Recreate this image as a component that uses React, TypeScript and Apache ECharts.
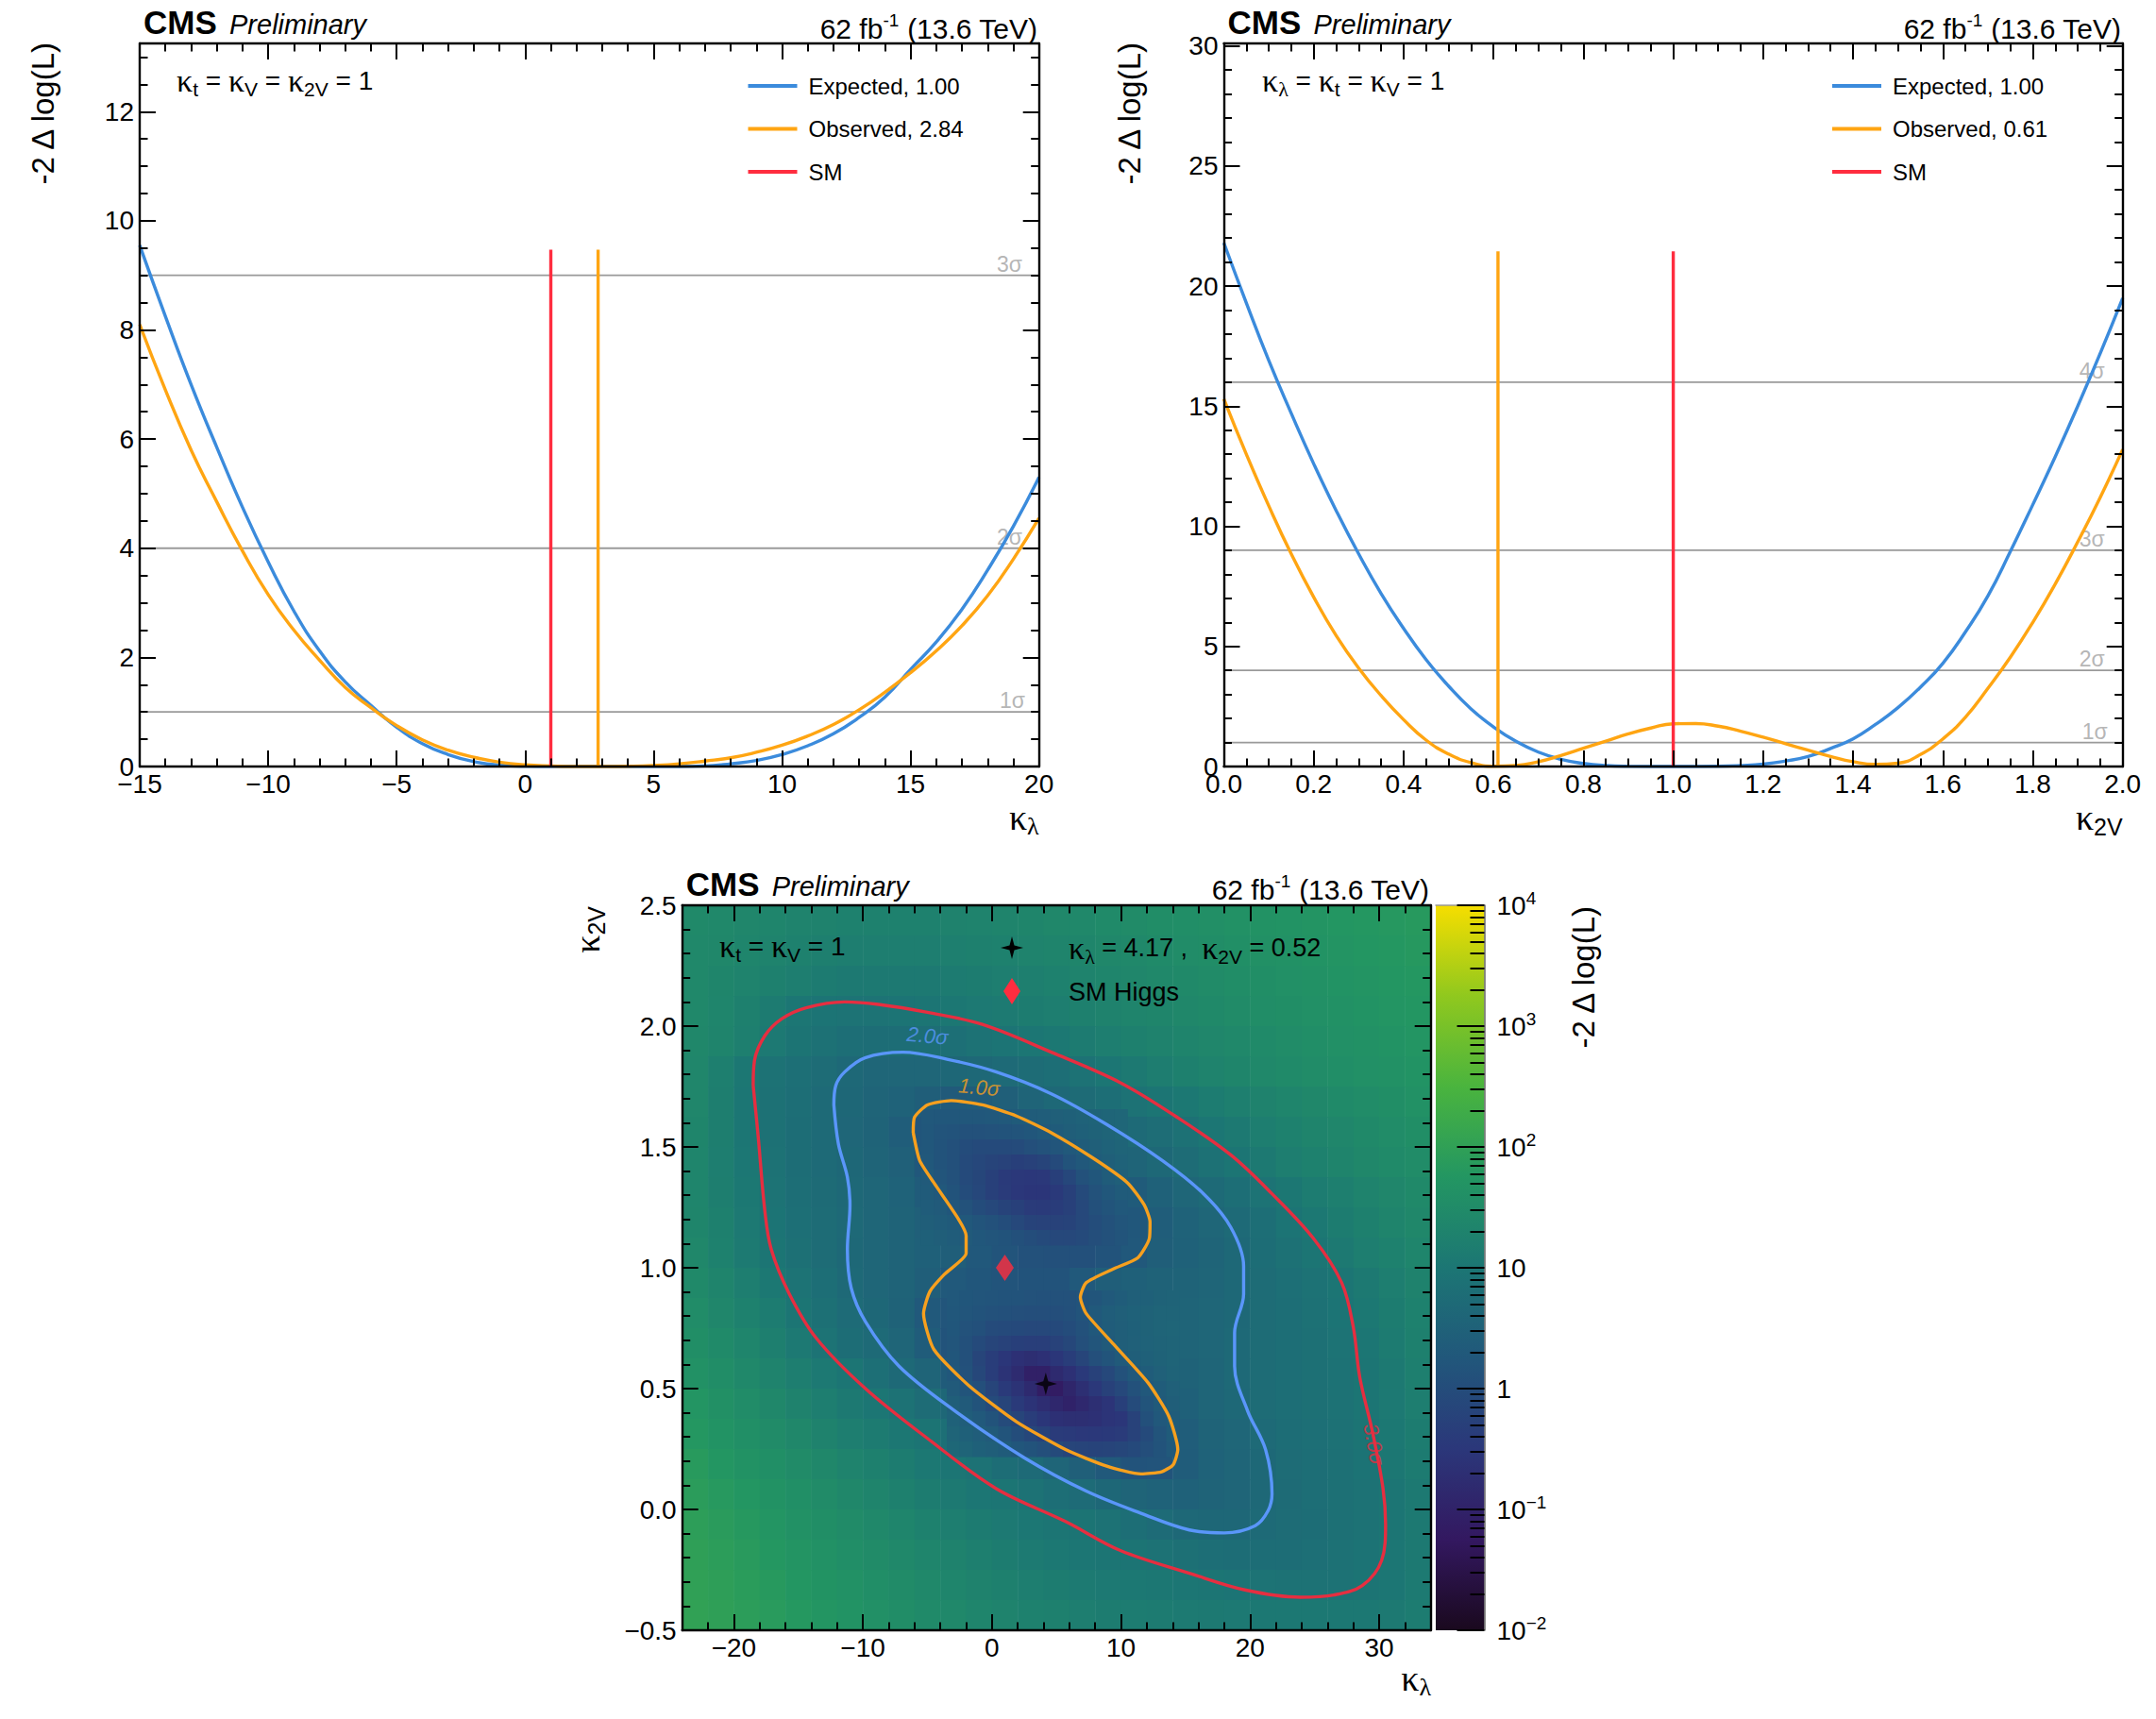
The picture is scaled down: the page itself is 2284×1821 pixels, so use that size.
import React, { useEffect, useRef } from "react";
import * as echarts from "echarts";

// ---------- Panel A: scan of kappa_lambda ----------
const klScanX = [-15,-14,-13,-12,-11,-10,-9,-8,-7,-6,-5,-4,-3,-2,-1,0,1,2,3,4,5,6,7,8,9,10,11,12,13,14,15,16,17,18,19,20];
const klExpected = [9.55,8.25,7,5.85,4.75,3.75,2.85,2.12,1.55,1.12,0.72,0.42,0.22,0.09,0.025,0.003,0,0,0,0,0,0,0.01,0.05,0.11,0.22,0.38,0.6,0.9,1.27,1.78,2.28,2.88,3.6,4.4,5.3];
const klObserved = [8.1,6.9,5.8,4.85,3.95,3.15,2.5,1.95,1.45,1.08,0.75,0.49,0.3,0.17,0.08,0.03,0.01,0,0,0.005,0.02,0.05,0.1,0.16,0.26,0.39,0.56,0.77,1.04,1.36,1.72,2.12,2.58,3.13,3.8,4.55];
// ---------- Panel B: scan of kappa_2V ----------
const k2vExpX = [0,0.05,0.1,0.15,0.2,0.25,0.3,0.35,0.4,0.45,0.5,0.55,0.6,0.65,0.7,0.75,0.8,0.85,0.9,1,1.1,1.15,1.2,1.25,1.3,1.35,1.4,1.45,1.5,1.55,1.6,1.65,1.7,1.75,1.8,1.85,1.9,1.95,2];
const k2vExpected = [21.8,19.3,16.9,14.7,12.6,10.65,8.85,7.2,5.75,4.45,3.35,2.4,1.65,1.05,0.6,0.3,0.13,0.04,0.01,0,0.01,0.04,0.1,0.23,0.42,0.75,1.15,1.75,2.45,3.3,4.3,5.6,7.1,8.95,10.9,12.9,15,17.2,19.5];
const k2vObsX = [0,0.05,0.1,0.15,0.2,0.25,0.3,0.35,0.4,0.45,0.5,0.55,0.6,0.65,0.7,0.75,0.8,0.85,0.9,0.95,1,1.05,1.1,1.15,1.2,1.25,1.3,1.35,1.4,1.45,1.5,1.55,1.6,1.65,1.7,1.75,1.8,1.85,1.9,1.95,2];
const k2vObserved = [15.3,13,10.85,8.85,7.05,5.45,4.1,2.95,1.95,1.1,0.52,0.16,0.01,0.04,0.2,0.46,0.76,1.06,1.36,1.6,1.78,1.79,1.68,1.47,1.22,0.95,0.68,0.42,0.2,0.09,0.14,0.5,1.15,2.05,3.25,4.55,6,7.6,9.35,11.2,13.2];

// ---------- Panel C: likelihood surface ----------
const heatColsX = [-23,-21,-19,-17,-15,-13,-11,-9,-7,-5,-3,-1,1,3,5,7,9,11,13,15,17,19,21,23,25,27,29,31,33];
const heatRowsY = [2.4375,2.3125,2.1875,2.0625,1.9375,1.8125,1.6875,1.5625,1.4375,1.3125,1.1875,1.0625,0.9375,0.8125,0.6875,0.5625,0.4375,0.3125,0.1875,0.0625,-0.0625,-0.1875,-0.3125,-0.4375];
const heatValues = [
[28,26,24,22,20,19,18,18,18,18,19,20,21,23,25,27,29,31,34,36,39,42,45,48,51,55,59,63,68],
[27,25,22,20,18,16,15,15,15,15,16,17,18,20,21,23,25,27,30,32,35,38,41,44,47,51,55,59,64],
[26,23,20,17,15,13,12,12,12,12,13,14,15,16,18,20,22,24,26,28,31,34,37,40,43,47,51,55,60],
[26,22,17,13,10,8.8,8.4,8.4,8.8,9.7,10.5,11.5,12.5,14,15,17,19,21,23,25,28,31,34,37,40,44,48,52,56],
[25,21,16,11.5,9,7.4,6.5,6,6,6.5,6.9,7.9,8.8,9.8,11,13,15,17,19,21,24,27,30,33,36,40,44,48,52],
[24,16,10.6,8.1,6.8,5.6,4.7,4.2,4,4.2,4.3,4.6,5,5.6,6.5,8.1,10,12,14.5,17,20,23,26,29,32,36,40,44,48],
[24,15.5,10.2,7.6,6.3,5.2,4.3,3.7,3.2,2.7,2.1,2.3,2.8,3.6,4.5,5.4,6.5,7.8,9.2,11,13.5,16,19,22,25,29,33,37,42],
[23,15.5,10.2,7.6,6.2,5.1,4.2,3.4,2.5,1.6,1.3,1.2,1.1,1.5,2.2,3,4,5,5.9,7.5,9.8,12,15,18,21,24,28,32,37],
[22,15,10.4,7.9,6.2,5.1,4.4,3.7,2.9,1.8,1.3,0.9,0.6,0.6,0.95,1.8,2.8,3.7,4.6,5.8,7.4,9.3,12,15,18,21,25,29,33],
[22,15.5,11,8.4,6.5,5.4,4.7,4,3.2,2.2,1.3,0.8,0.4,0.3,0.38,0.8,1.4,2.2,3.1,4,5,6.3,8.4,10.7,13.5,16.5,20,24,28],
[23,17,11.5,8.8,6.8,5.6,4.8,4.2,3.5,2.8,2.2,1.6,1.05,0.75,0.68,0.85,1.3,1.8,2.5,3.2,4.2,5.1,6.5,8.7,11,14,17,21,25],
[25,18,12.5,9.4,7.2,5.8,4.7,4.1,3.5,3,2.6,1.9,1.5,1.3,1.2,1.2,1.4,1.9,2.6,3.1,3.7,4.6,6,7.6,9.3,12,15,18,22],
[28,21,15,11,8.4,6.5,4.9,4.2,3.4,2.6,2,1.7,1.5,1.4,1.4,2,2.6,3,3.3,3.5,3.9,4.5,5.6,6.9,8.1,9.4,12,15,19],
[32,24,18,13.5,9.5,7,5.3,4.3,3.3,2,1.6,1.4,1.25,1.15,1.3,2,2.8,3.2,3.5,3.7,4,4.7,5.6,6.5,7.6,8.8,11,14,18],
[37,29,22,16.5,11.5,8.3,6.2,5,3.9,2.4,1.4,0.8,0.6,0.5,0.65,1.2,2,2.9,3.3,3.7,4.2,4.9,5.6,6.3,7,8.3,10,13,17],
[44,35,26,20,15,11.5,9.2,6.7,4.9,3.7,2.2,1.05,0.38,0.14,0.1,0.27,0.68,1.6,2.8,3.3,3.9,4.9,5.6,6.3,7,8.1,9.6,12,16],
[52,41,32,25,19,15,12,9.9,7.8,5.6,4.4,2.9,1.8,0.6,0.2,0.12,0.24,0.68,2,3,3.8,4.5,5.6,6.5,7.2,7.9,9.2,11.5,15],
[60,48,38,31,25,19,15,13,10.5,8.9,6.8,5.2,4,2.5,1.6,0.8,0.42,0.38,1.3,2.5,3.4,4,5,6,6.8,7.6,8.9,11,14],
[70,57,46,38,31,25,20,17,14,11,9.6,8,6.2,5,3.9,2.8,2,1.4,1.5,2.4,3.2,3.8,4.6,5.6,6.5,7.2,8.5,10.5,13],
[80,66,55,46,38,31,25,21,17.5,14,12,10,9.4,7.9,6.5,5.3,4.4,3.6,3.2,3.1,3.4,3.9,4.5,5.5,6.3,7,8.2,9.6,12],
[88,76,64,53,44,37,31,26,22,18,15,13,11.5,10.3,9.6,8.9,7.8,6.5,5.3,4.6,4.3,4.4,5,5.6,6.2,7,8,9.4,12],
[95,84,72,60,51,43,36,31,26,22,19,16,14,12.5,11,10,9.6,9.1,8.1,7.2,6.5,6.2,6.1,6.2,6.7,7.4,8.5,9.8,12],
[100,90,78,67,57,49,42,36,31,26,22,19,17,15,14,12.5,11.5,11,10.5,10,9.4,8.8,8.4,8.1,8,8.1,9,10.2,12.5],
[105,95,84,73,62,54,47,40,35,30,26,22,20,18,17,15,14,13.5,13,12.5,12,11.5,11,11,11,11,11,12,13.5],
];
const lowerSpotX = [-3,-2,-1,0,1,2,3,4,5,6,7,8,9,10,11,12,13,14];
const lowerSpotY = [0.875,0.8125,0.75,0.6875,0.625,0.5625,0.5,0.4375,0.375,0.3125,0.25];
const lowerSpotValues = [
[1.9,1.7,1.6,1.5,1.45,1.4,1.35,1.3,1.3,1.3,1.4,1.6,2,2.4,2.8,3,3.3,3.5],
[1.8,1.6,1.45,1.3,1.2,1.15,1.1,1.1,1.1,1.2,1.5,2,2.5,2.8,3.1,3.3,3.6,3.7],
[1.65,1.35,1.2,0.95,0.88,0.84,0.78,0.78,0.84,1,1.3,1.85,2.3,2.7,3,3.3,3.6,3.8],
[1.6,1.25,0.88,0.68,0.57,0.5,0.45,0.47,0.57,0.74,1.15,1.6,2.1,2.6,2.9,3.2,3.5,3.7],
[1.65,1.25,0.68,0.43,0.3,0.22,0.19,0.22,0.3,0.43,0.68,1.15,1.55,2.05,2.6,3,3.3,3.6],
[1.8,1.3,0.74,0.43,0.25,0.16,0.09,0.09,0.15,0.22,0.36,0.54,0.8,1.3,1.9,2.4,2.9,3.4],
[2.1,1.55,1.15,0.68,0.38,0.25,0.15,0.075,0.07,0.12,0.2,0.33,0.54,0.8,1.3,1.9,2.4,2.9],
[2.7,2.05,1.45,0.95,0.68,0.38,0.26,0.18,0.13,0.1,0.14,0.2,0.27,0.5,0.95,1.5,2.1,2.6],
[3.1,2.5,1.95,1.45,0.95,0.68,0.43,0.3,0.22,0.2,0.2,0.22,0.27,0.3,0.57,1.2,1.85,2.4],
[3.7,3,2.5,2.05,1.5,1.05,0.74,0.57,0.4,0.38,0.33,0.33,0.35,0.4,0.57,0.88,1.55,2.2],
[4.4,3.6,3,2.6,2.2,1.7,1.4,1.15,0.88,0.68,0.65,0.6,0.65,0.7,0.84,1.1,1.45,2],
];
const upperSpotX = [-5,-4,-3,-2,-1,0,1,2,3,4,5,6,7,8,9,10];
const upperSpotY = [1.625,1.5625,1.5,1.4375,1.375,1.3125,1.25,1.1875,1.125];
const upperSpotValues = [
[1.9,1.8,1.75,1.8,1.8,1.9,2,2.2,2.3,2.5,2.8,3,3.2,3.5,3.8,4],
[1.75,1.55,1.4,1.3,1.3,1.35,1.4,1.5,1.65,1.95,2.2,2.6,3,3.3,3.7,4.1],
[1.8,1.4,1.2,1,0.88,0.88,0.88,0.95,1.15,1.35,1.6,2,2.4,2.8,3.2,3.7],
[1.9,1.45,1.2,0.9,0.75,0.65,0.56,0.5,0.54,0.65,0.9,1.4,1.85,2.4,2.8,3.2],
[2.05,1.6,1.3,0.9,0.7,0.52,0.38,0.34,0.31,0.34,0.5,0.75,1.3,1.7,2.3,2.8],
[2.2,1.85,1.45,1,0.75,0.52,0.4,0.32,0.29,0.29,0.35,0.52,0.88,1.35,1.8,2.2],
[2.4,2.1,1.65,1.35,1,0.8,0.62,0.52,0.4,0.38,0.41,0.52,0.8,1.2,1.5,1.85],
[2.7,2.4,2.15,1.85,1.5,1.3,1.05,0.8,0.62,0.56,0.56,0.62,0.8,1.05,1.3,1.6],
[3,2.6,2.3,2.1,1.8,1.6,1.4,1.2,1.05,0.88,0.8,0.8,0.88,1.1,1.3,1.5],
];
const contour1: number[][] = [[-6.1,1.559],[-6,1.623],[-5,1.674],[-3.15,1.692],[-0.75,1.674],[1.9,1.628],[4.6,1.559],[7.8,1.455],[10.5,1.352],[11.8,1.26],[12.25,1.19],[12.2,1.122],[11.3,1.041],[9.4,0.995],[7.3,0.938],[6.85,0.878],[7.3,0.811],[9.4,0.685],[12.1,0.524],[13.7,0.386],[14.4,0.248],[14.05,0.186],[13.15,0.156],[11.55,0.147],[8.9,0.179],[5.7,0.248],[1.9,0.363],[-1.8,0.513],[-4.5,0.662],[-5.3,0.811],[-4.8,0.903],[-3.7,0.972],[-2,1.06],[-2,1.133],[-2.6,1.202],[-4.5,1.352],[-5.6,1.444],[-6.1,1.559]];
const contour2: number[][] = [[-12.25,1.674],[-12.1,1.754],[-11.4,1.811],[-9.84,1.869],[-6.9,1.892],[-3.4,1.862],[0.3,1.811],[4.6,1.72],[8.9,1.593],[13.2,1.444],[16.4,1.306],[18.5,1.168],[19.5,1.007],[19.5,0.892],[18.8,0.731],[18.8,0.593],[19.8,0.409],[21.2,0.248],[21.7,0.064],[21.4,-0.005],[20.4,-0.067],[18,-0.097],[15.3,-0.085],[11.55,-0.016],[7.3,0.076],[2.5,0.214],[-2.9,0.409],[-7.2,0.593],[-9.8,0.777],[-10.9,0.915],[-11.2,1.076],[-11,1.26],[-11.2,1.375],[-11.9,1.513],[-12.25,1.674]];
const contour3: number[][] = [[-18.5,1.754],[-18.4,1.857],[-17.6,1.96],[-16.3,2.03],[-14.4,2.076],[-11.4,2.1],[-8.8,2.09],[-5,2.057],[-0.75,2.007],[4.6,1.892],[9.95,1.766],[14.2,1.628],[18.5,1.467],[21.7,1.306],[24.9,1.122],[27.1,0.938],[28,0.754],[28.5,0.547],[29.5,0.317],[30.3,0.087],[30.5,-0.062],[30.2,-0.21],[28.7,-0.315],[26.5,-0.354],[23.9,-0.363],[19.6,-0.333],[15.3,-0.264],[9.95,-0.17],[5.7,-0.05],[0.3,0.087],[-5,0.294],[-9.8,0.5],[-13.6,0.708],[-15.7,0.892],[-17.1,1.076],[-17.6,1.237],[-18.1,1.536],[-18.5,1.754]];
const bestFit = [4.17, 0.52];
const smPoint = [1, 1];
// ROOT viridis palette stops: log10(value), colour
const paletteLog = [-2,-1.25,-0.5,0.25,1,1.75,2.5,3.25,4];
const paletteRGB = [[26,9,30],[51,24,96],[43,55,122],[33,87,123],[28,118,116],[35,150,98],[74,180,62],[144,200,30],[246,222,0]];

const SANS = '"Liberation Sans", Arial, sans-serif';
const SERIF = '"Liberation Serif", serif';
const BLUE = "#3b8bdc";
const ORANGE = "#ffa512";
const RED = "#ff2d3f";
const CBLUE = "#5a96fa";
const CORANGE = "#f7a01e";
const CRED = "#e62e40";
const GREY = "#9a9a9a";

function colorOf(v: number) {
  const l = Math.log10(Math.max(v, 0.01));
  let i = 0;
  while (i < paletteLog.length - 2 && l > paletteLog[i + 1]) i++;
  const t = Math.min(1, Math.max(0, (l - paletteLog[i]) / (paletteLog[i + 1] - paletteLog[i])));
  const c = paletteRGB[i].map((a, j) => Math.round(a + (paletteRGB[i + 1][j] - a) * t));
  return `rgb(${c[0]},${c[1]},${c[2]})`;
}
function zip(x: number[], y: number[]) { return x.map((v, i) => [v, y[i]]); }
function heatCells() {
  const out: number[][] = [];
  heatRowsY.forEach((y, r) => heatColsX.forEach((x, c) => out.push([x - 1, y - 0.0625, x + 1, y + 0.0625, heatValues[r][c]])));
  const patch = (xs: number[], ys: number[], vals: number[][]) =>
    ys.forEach((y, r) => xs.forEach((x, c) => out.push([x - 0.5, y - 0.03125, x + 0.5, y + 0.03125, vals[r][c]])));
  patch(lowerSpotX, lowerSpotY, lowerSpotValues);
  patch(upperSpotX, upperSpotY, upperSpotValues);
  return out;
}
function between(start: number, stop: number, step: number, skip: number[]) {
  const out: number[] = [];
  const n = Math.round((stop - start) / step);
  for (let i = 0; i <= n; i++) {
    const v = +(start + i * step).toFixed(4);
    if (!skip.some((s) => Math.abs(s - v) < 1e-6)) out.push(v);
  }
  return out;
}
const minusFmt = (dec: number) => (v: number) => (dec ? v.toFixed(dec) : String(v)).replace("-", "\u2212");

const xAxes: any[] = [];
const yAxes: any[] = [];
function addAxes(list: any[], grid: number, posA: string, posB: string, min: number, max: number, majors: number[], minors: number[], fmt: (v: number) => string) {
  const idx = list.length;
  const base = { type: "value", gridIndex: grid, min, max, z: 10, splitLine: { show: false }, silent: true };
  const line = { show: true, onZero: false, lineStyle: { color: "#000", width: 2.4 } };
  const tickMajor = { show: true, inside: true, length: 17, customValues: majors, lineStyle: { color: "#000", width: 2 } };
  const tickMinor = { show: true, inside: true, length: 8.5, customValues: minors, lineStyle: { color: "#000", width: 2 } };
  list.push({ ...base, position: posA, axisLine: line, axisTick: tickMajor, axisLabel: { show: true, customValues: majors, formatter: fmt, fontFamily: SANS, fontSize: 28, color: "#000", margin: posA === "bottom" ? 4 : 6 } });
  list.push({ ...base, position: posB, axisLine: line, axisTick: tickMajor, axisLabel: { show: false } });
  list.push({ ...base, position: posA, axisLine: { show: false, onZero: false }, axisTick: tickMinor, axisLabel: { show: false } });
  list.push({ ...base, position: posB, axisLine: { show: false, onZero: false }, axisTick: tickMinor, axisLabel: { show: false } });
  return idx;
}

const richBase = {
  k: { fontFamily: SERIF, fontSize: 34, lineHeight: 40, color: "#000" },
  n: { fontFamily: SANS, fontSize: 28, lineHeight: 40, color: "#000" },
  sub: { fontFamily: SANS, fontSize: 21, lineHeight: 23, verticalAlign: "bottom", color: "#000" },
  lam: { fontFamily: SERIF, fontSize: 22, lineHeight: 23, verticalAlign: "bottom", color: "#000" },
};
const richAxis = {
  k: { fontFamily: SERIF, fontSize: 38, lineHeight: 44, color: "#000" },
  sub: { fontFamily: SANS, fontSize: 25, lineHeight: 26, verticalAlign: "bottom", color: "#000" },
  lam: { fontFamily: SERIF, fontSize: 26, lineHeight: 26, verticalAlign: "bottom", color: "#000" },
};
function label(x: number, y: number, text: string, o: any = {}) {
  return {
    type: "text", x, y, z: 100, silent: true, rotation: o.rotation || 0,
    style: { text, rich: o.rich, font: o.font, align: o.align || "left", verticalAlign: o.valign || "middle", fill: "#000" },
  };
}
function header(left: number, right: number, top: number, dy: number) {
  return [
    label(left + 4, top - 5.5, "CMS", { font: `bold 35px ${SANS}`, valign: "bottom" }),
    label(left + 95, top - 5.5, "Preliminary", { font: `italic 29px ${SANS}`, valign: "bottom" }),
    label(right, top + dy, "{a|62 fb}{s|-1}{a| (13.6 TeV)}", {
      align: "right", valign: "bottom",
      rich: {
        a: { fontFamily: SANS, fontSize: 30, lineHeight: 36, color: "#000" },
        s: { fontFamily: SANS, fontSize: 19, lineHeight: 22, verticalAlign: "top", color: "#000" },
      },
    }),
  ];
}
function yName(x: number, y: number) {
  return label(x, y, "-2 \u0394 log(L)", { rotation: Math.PI / 2, align: "right", font: `33px ${SANS}` });
}

function buildOption() {
  xAxes.length = 0; yAxes.length = 0;
  const g1 = { left: 148, top: 46, width: 952.7, height: 766 };
  const g2 = { left: 1296.5, top: 46, width: 952.2, height: 766 };
  const g3 = { left: 722.7, top: 959, width: 793, height: 768 };
  const g4 = { left: 1521, top: 959, width: 51.5, height: 768 };
  const x1 = addAxes(xAxes, 0, "bottom", "top", -15, 20, between(-15, 20, 5, []), between(-15, 20, 1, between(-15, 20, 5, [])), minusFmt(0));
  const y1 = addAxes(yAxes, 0, "left", "right", 0, 13.25, between(0, 12, 2, []), between(0, 13, 0.5, between(0, 12, 2, [])), minusFmt(0));
  const x2 = addAxes(xAxes, 1, "bottom", "top", 0, 2, between(0, 2, 0.2, []), between(0, 2, 0.05, between(0, 2, 0.2, [])), minusFmt(1));
  const y2 = addAxes(yAxes, 1, "left", "right", 0, 30.1, between(0, 30, 5, []), between(0, 30, 1, between(0, 30, 5, [])), minusFmt(0));
  const x3 = addAxes(xAxes, 2, "bottom", "top", -24, 34, between(-20, 30, 10, []), between(-24, 34, 2, between(-20, 30, 10, [])), minusFmt(0));
  const y3 = addAxes(yAxes, 2, "left", "right", -0.5, 2.5, between(-0.5, 2.5, 0.5, []), between(-0.5, 2.5, 0.1, between(-0.5, 2.5, 0.5, [])), minusFmt(1));

  // colour bar axes, in log10 of the value
  const x4 = xAxes.length;
  xAxes.push({ type: "value", gridIndex: 3, min: 0, max: 1, position: "top", z: 10, splitLine: { show: false },
    axisLine: { show: true, onZero: false, lineStyle: { color: "#999", width: 1.5 } }, axisTick: { show: false }, axisLabel: { show: false } });
  const decades = [-2, -1, 0, 1, 2, 3, 4];
  const logMinor: number[] = [];
  decades.slice(0, 6).forEach((d) => [2, 3, 4, 5, 6, 7, 8, 9].forEach((m) => logMinor.push(d + Math.log10(m))));
  const y4 = yAxes.length;
  const lab = (v: number) => {
    if (v === 0) return "{b|1}";
    if (v === 1) return "{b|10}";
    return `{b|10}{s|${String(v).replace("-", "\u2212")}}`;
  };
  yAxes.push({ type: "value", gridIndex: 3, min: -2, max: 4, position: "right", z: 10, splitLine: { show: false },
    axisLine: { show: true, onZero: false, lineStyle: { color: "#666", width: 1.5 } },
    axisTick: { show: true, inside: true, length: 29, customValues: decades, lineStyle: { color: "#000", width: 2 } },
    axisLabel: { show: true, customValues: decades, formatter: lab, margin: 13, align: "left",
      rich: {
        b: { fontFamily: SANS, fontSize: 28, lineHeight: 34, color: "#000" },
        s: { fontFamily: SANS, fontSize: 19, lineHeight: 20, verticalAlign: "top", color: "#000" },
      } } });
  yAxes.push({ type: "value", gridIndex: 3, min: -2, max: 4, position: "right", z: 10, splitLine: { show: false },
    axisLine: { show: false, onZero: false },
    axisTick: { show: true, inside: true, length: 15, customValues: logMinor, lineStyle: { color: "#000", width: 2 } },
    axisLabel: { show: false } });

  const curve = (name: string, data: number[][], xi: number, yi: number, color: string, smooth: any = true, z = 5) => ({
    type: "line", name, data, xAxisIndex: xi, yAxisIndex: yi, smooth, symbol: "none", z, silent: true,
    lineStyle: { color, width: 3.4 }, itemStyle: { color },
  });
  const vline = (name: string, x: number, top: number, xi: number, yi: number, color: string) =>
    curve(name, [[x, 0], [x, top]], xi, yi, color, false, 6);
  const hline = (y: number, xa: number, xb: number, xi: number, yi: number) => ({
    type: "line", name: `level ${y}`, data: [[xa, y], [xb, y]], xAxisIndex: xi, yAxisIndex: yi, symbol: "none", z: 3, silent: true,
    lineStyle: { color: GREY, width: 1.8 },
  });
  const sigmaLabels = (items: any[], xi: number, yi: number) => ({
    type: "scatter", name: "sigma labels", xAxisIndex: xi, yAxisIndex: yi, symbolSize: 1, z: 4, silent: true,
    itemStyle: { color: "transparent" },
    data: items.map((it) => ({ value: [it[0], it[1]], label: { show: true, formatter: it[2], position: "top", distance: 0, color: "#a2a2a2", fontFamily: SANS, fontSize: 23 } })),
  });

  const cells = heatCells();
  const series: any[] = [
    hline(1, -15, 20, x1, y1), hline(4, -15, 20, x1, y1), hline(9, -15, 20, x1, y1),
    sigmaLabels([[18.85, 9, "3\u03c3"], [18.85, 4, "2\u03c3"], [18.96, 1, "1\u03c3"]], x1, y1),
    curve("Expected, 1.00", zip(klScanX, klExpected), x1, y1, BLUE),
    curve("Observed, 2.84", zip(klScanX, klObserved), x1, y1, ORANGE),
    vline("SM", 1, 9.47, x1, y1, RED),
    vline("Observed, 2.84", 2.84, 9.47, x1, y1, ORANGE),

    hline(1, 0, 2, x2, y2), hline(4, 0, 2, x2, y2), hline(9, 0, 2, x2, y2), hline(16, 0, 2, x2, y2),
    sigmaLabels([[1.932, 16, "4\u03c3"], [1.932, 9, "3\u03c3"], [1.932, 4, "2\u03c3"], [1.938, 1, "1\u03c3"]], x2, y2),
    curve("Expected, 1.00", zip(k2vExpX, k2vExpected), x2, y2, BLUE),
    curve("Observed, 0.61", zip(k2vObsX, k2vObserved), x2, y2, ORANGE),
    vline("SM", 1, 21.45, x2, y2, RED),
    vline("Observed, 0.61", 0.61, 21.45, x2, y2, ORANGE),

    {
      type: "custom", name: "surface", xAxisIndex: x3, yAxisIndex: y3, data: cells, z: 1, silent: true,
      encode: { x: [0, 2], y: [1, 3] },
      renderItem: (_p: any, api: any) => {
        const a = api.coord([api.value(0), api.value(3)]);
        const b = api.coord([api.value(2), api.value(1)]);
        return { type: "rect", shape: { x: a[0], y: a[1], width: b[0] - a[0] + 0.5, height: b[1] - a[1] + 0.5 }, style: { fill: colorOf(api.value(4)) } };
      },
    },
    curve("1 sigma", contour1, x3, y3, CORANGE, 0.2),
    curve("2 sigma", contour2, x3, y3, CBLUE, 0.35),
    curve("3 sigma", contour3, x3, y3, CRED, 0.35),
    {
      type: "scatter", name: "contour labels", xAxisIndex: x3, yAxisIndex: y3, symbolSize: 1, z: 6, silent: true, itemStyle: { color: "transparent" },
      data: [
        { value: [-5, 1.96], label: { show: true, formatter: "2.0\u03c3", position: "inside", rotate: -5, color: CBLUE, fontFamily: SANS, fontStyle: "italic", fontSize: 22 } },
        { value: [-1, 1.747], label: { show: true, formatter: "1.0\u03c3", position: "inside", rotate: -5, color: CORANGE, fontFamily: SANS, fontStyle: "italic", fontSize: 22 } },
        { value: [29.6, 0.27], label: { show: true, formatter: "3.0\u03c3", position: "inside", rotate: -80, color: CRED, fontFamily: SANS, fontStyle: "italic", fontSize: 22 } },
      ],
    },
    {
      type: "scatter", name: "Best fit", xAxisIndex: x3, yAxisIndex: y3, z: 7, silent: true, data: [bestFit],
      symbol: "path://M12 0 L14.6 9.4 L24 12 L14.6 14.6 L12 24 L9.4 14.6 L0 12 L9.4 9.4 Z", symbolSize: 24, itemStyle: { color: "#000" },
    },
    {
      type: "scatter", name: "SM Higgs", xAxisIndex: x3, yAxisIndex: y3, z: 7, silent: true, data: [smPoint],
      symbol: "diamond", symbolSize: [19, 28], itemStyle: { color: RED },
    },
    {
      type: "custom", name: "colour bar", xAxisIndex: x4, yAxisIndex: y4, data: [[0, -2, 1, 4]], z: 1, silent: true,
      encode: { x: [0, 2], y: [1, 3] },
      renderItem: (_p: any, api: any) => {
        const a = api.coord([api.value(0), api.value(3)]);
        const b = api.coord([api.value(2), api.value(1)]);
        const stops = paletteLog.map((l, i) => ({ offset: (l + 2) / 6, color: `rgb(${paletteRGB[i].join(",")})` }));
        return { type: "rect", shape: { x: a[0], y: a[1], width: b[0] - a[0], height: b[1] - a[1] },
          style: { fill: new echarts.graphic.LinearGradient(0, 1, 0, 0, stops) } };
      },
    },
  ];

  const legend = (left: number, names: string[]) => ({
    show: true, left, top: 74, orient: "vertical", icon: "rect", itemWidth: 52, itemHeight: 4, itemGap: 21.5,
    selectedMode: false, data: names, textStyle: { fontFamily: SANS, fontSize: 24, color: "#000", padding: [0, 0, 0, 7] },
  });

  const K = "{k|\u03ba}";
  const graphic: any[] = [
    ...header(148, 1099, 46, 2),
    ...header(1296.5, 2247, 46, 2),
    ...header(722.7, 1514, 959, 1),
    yName(45, 45), yName(1196, 45), yName(1677, 960),
    label(187, 85, `${K}{sub|t}{n| = }${K}{sub|V}{n| = }${K}{sub|2V}{n| = 1}`, { rich: richBase }),
    label(1337, 85, `${K}{lam|\u03bb}{n| = }${K}{sub|t}{n| = }${K}{sub|V}{n| = 1}`, { rich: richBase }),
    label(762, 1002, `${K}{sub|t}{n| = }${K}{sub|V}{n| = 1}`, { rich: richBase }),
    label(1100.7, 866, `${K}{lam|\u03bb}`, { rich: richAxis, align: "right" }),
    label(2248.7, 866, `${K}{sub|2V}`, { rich: richAxis, align: "right" }),
    label(1516, 1778, `${K}{lam|\u03bb}`, { rich: richAxis, align: "right" }),
    label(622, 960, `${K}{sub|2V}`, { rich: richAxis, align: "right", rotation: Math.PI / 2 }),
    label(1132, 1004, `${K}{lam|\u03bb}{n| = 4.17 ,  }${K}{sub|2V}{n| = 0.52}`, { rich: { ...richBase, n: { ...richBase.n, fontSize: 27 } } }),
    label(1132, 1051, "SM Higgs", { font: `27px ${SANS}` }),
    { type: "polygon", z: 100, silent: true, x: 1072, y: 1004, shape: { points: [[0, -12], [2.5, -2.5], [12, 0], [2.5, 2.5], [0, 12], [-2.5, 2.5], [-12, 0], [-2.5, -2.5]] }, style: { fill: "#000" } },
    { type: "polygon", z: 100, silent: true, x: 1072, y: 1050, shape: { points: [[0, -14], [9, 0], [0, 14], [-9, 0]] }, style: { fill: RED } },
  ];

  return {
    animation: false,
    backgroundColor: "#fff",
    grid: [g1, g2, g3, g4].map((g) => ({ ...g, containLabel: false })),
    xAxis: xAxes,
    yAxis: yAxes,
    legend: [
      legend(787.5, ["Expected, 1.00", "Observed, 2.84", "SM"]),
      legend(1936, ["Expected, 1.00", "Observed, 0.61", "SM"]),
    ],
    series,
    graphic,
  };
}

export default function App() {
  const ref = useRef<HTMLDivElement>(null);
  useEffect(() => {
    const chart = echarts.init(ref.current!, undefined, { renderer: "svg" });
    chart.setOption(buildOption() as any);
    return () => chart.dispose();
  }, []);
  return <div ref={ref} style={{ position: "absolute", left: 0, top: 0, width: 2284, height: 1821 }} />;
}
